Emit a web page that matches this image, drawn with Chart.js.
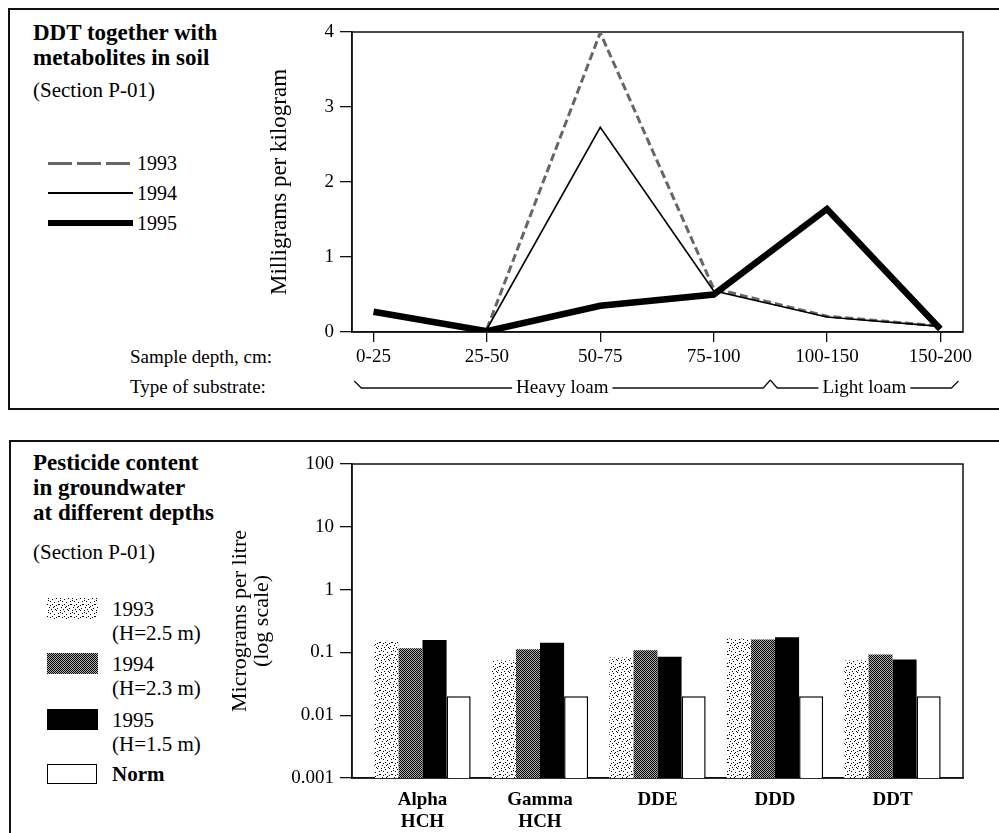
<!DOCTYPE html>
<html>
<head>
<meta charset="utf-8">
<script src="https://cdn.jsdelivr.net/npm/chart.js@4.4.1/dist/chart.umd.min.js"></script>
<style>
  html, body { margin: 0; padding: 0; background: #fff; }
  body { width: 999px; height: 833px; position: relative; overflow: hidden; font-family: "Liberation Serif", serif; color: #000; }
  .abs { position: absolute; white-space: nowrap; }
  .panel { position: absolute; border-left: 2px solid #111; border-top: 2px solid #111; }
  .title { font-weight: bold; font-size: 23px; line-height: 25px; }
  .sub { font-size: 21px; line-height: 22px; }
  .lg { font-size: 20px; line-height: 21px; }
  .lg2 { font-size: 21px; line-height: 24px; }
  .axl { font-size: 19px; line-height: 20px; }
  canvas { position: absolute; }
  .swatch { position: absolute; width: 51px; height: 21px; }
</style>
</head>
<body>
<div class="panel" style="left:8px; top:8px; width:995px; height:398px; border-bottom:2px solid #111;"></div>
<div class="panel" style="left:9px; top:440px; width:995px; height:400px;"></div>

<!-- top panel texts -->
<div class="abs title" style="left:33px; top:20px;">DDT together with<br>metabolites in soil</div>
<div class="abs sub" style="left:33px; top:79px;">(Section P-01)</div>
<div class="abs" style="left:48px; top:162px; width:85px; height:3px; background:repeating-linear-gradient(90deg,#666 0 24px,transparent 24px 29px);"></div>
<div class="abs lg" style="left:137px; top:153px;">1993</div>
<div class="abs" style="left:48px; top:192px; width:85px; height:2px; background:#000;"></div>
<div class="abs lg" style="left:137px; top:183px;">1994</div>
<div class="abs" style="left:48px; top:220px; width:85px; height:6px; background:#000;"></div>
<div class="abs lg" style="left:137px; top:213px;">1995</div>
<div class="abs axl" style="left:130px; top:347px;">Sample depth, cm:</div>
<div class="abs axl" style="left:130px; top:377px;">Type of substrate:</div>

<!-- bottom panel texts -->
<div class="abs title" style="left:33px; top:450px;">Pesticide content<br>in groundwater<br>at different depths</div>
<div class="abs sub" style="left:33px; top:541px;">(Section P-01)</div>
<canvas id="sw1993" class="swatch" width="51" height="21" style="left:47px; top:598px;"></canvas>
<div class="abs lg2" style="left:112px; top:597px;">1993<br>(H=2.5 m)</div>
<canvas id="sw1994" class="swatch" width="51" height="21" style="left:47px; top:653px;"></canvas>
<div class="abs lg2" style="left:112px; top:652px;">1994<br>(H=2.3 m)</div>
<canvas id="sw1995" class="swatch" width="51" height="21" style="left:47px; top:709px;"></canvas>
<div class="abs lg2" style="left:112px; top:708px;">1995<br>(H=1.5 m)</div>
<div class="abs" style="left:47px; top:764px; width:48px; height:18px; border:1.5px solid #000; background:#fff;"></div>
<div class="abs lg2" style="left:112px; top:762px; font-weight:bold;">Norm</div>

<canvas id="soil" width="739" height="404" style="left:260px; top:0px;"></canvas>
<canvas id="water" width="775" height="389" style="left:224px; top:444px;"></canvas>

<script>
// soil profile (mg/kg)
const depths = ['0-25', '25-50', '50-75', '75-100', '100-150', '150-200'];
const soil1993 = [null, 0.04, 3.99, 0.58, 0.21, 0.08];
const soil1994 = [null, 0.04, 2.73, 0.55, 0.2, 0.075];
const soil1995 = [0.27, 0.01, 0.35, 0.5, 1.64, 0.04];
const soilTicks = [0, 1, 2, 3, 4];
const substrates = [['Heavy loam', 0, 3], ['Light loam', 4, 5]];

// groundwater (ug/l, log scale)
const compounds = [['Alpha', 'HCH'], ['Gamma', 'HCH'], 'DDE', 'DDD', 'DDT'];
const water1993 = [0.153, 0.074, 0.083, 0.167, 0.074];
const water1994 = [0.116, 0.112, 0.108, 0.161, 0.093];
const water1995 = [0.157, 0.142, 0.085, 0.175, 0.077];
const waterNorm = [0.02, 0.02, 0.02, 0.02, 0.02];
const waterTicks = [0.001, 0.01, 0.1, 1, 10, 100];

const FAMILY = '"Liberation Serif", serif';
const INK = '#111';

function makePattern(size, dots, bg) {
  const c = document.createElement('canvas');
  c.width = c.height = size;
  const g = c.getContext('2d');
  g.fillStyle = bg;
  g.fillRect(0, 0, size, size);
  g.fillStyle = '#000';
  dots.forEach(function (d) { g.fillRect(d[0], d[1], 1, 1); });
  return g.createPattern(c, 'repeat');
}

const stipple = makePattern(12, [[1,0],[5,1],[9,0],[3,3],[7,4],[11,3],[0,6],[5,6],[9,7],[2,9],[6,9],[10,10],[4,11],[8,11],[1,2],[7,8],[11,6],[3,7]], '#fff');
const halftone = makePattern(2, [[0,0],[1,1]], '#aaa');

function paintSwatch(id, fill) {
  const el = document.getElementById(id);
  const c = el.getContext('2d');
  c.fillStyle = fill;
  c.fillRect(0, 0, el.width, el.height);
}
paintSwatch('sw1993', stipple);
paintSwatch('sw1994', halftone);
paintSwatch('sw1995', '#000');

const boxPlugin = {
  id: 'box',
  beforeDatasetsDraw(chart) {
    const a = chart.chartArea, c = chart.ctx;
    c.save();
    c.strokeStyle = INK;
    c.lineWidth = 1.5;
    c.strokeRect(a.left, a.top, a.right - a.left, a.bottom - a.top);
    c.restore();
  }
};

const substratePlugin = {
  id: 'substrate',
  afterDraw(chart) {
    const xs = chart.scales.x, c = chart.ctx;
    const y = xs.bottom - 16;
    c.save();
    c.strokeStyle = INK;
    c.lineWidth = 1.3;
    c.fillStyle = '#000';
    c.font = '19px ' + FAMILY;
    c.textAlign = 'center';
    c.textBaseline = 'middle';
    substrates.forEach(function (s, k) {
      const first = k === 0, last = k === substrates.length - 1;
      const a = xs.getPixelForValue(first ? s[1] - 0.17 : s[1] - 0.5);
      const b = xs.getPixelForValue(last ? s[2] + 0.16 : s[2] + 0.5);
      const m = (a + b) / 2;
      const tw = c.measureText(s[0]).width;
      c.beginPath();
      c.moveTo(a, y - (first ? 7 : 8));
      c.lineTo(a + 7, y);
      c.lineTo(m - tw / 2 - 4, y);
      c.moveTo(m + tw / 2 + 4, y);
      c.lineTo(b - 7, y);
      c.lineTo(b, y - (last ? 7 : 8));
      c.stroke();
      c.fillText(s[0], m, y);
    });
    c.restore();
  }
};

const tickFont = { family: FAMILY, size: 19 };

new Chart(document.getElementById('soil'), {
  type: 'line',
  data: {
    datasets: [{
      label: '1993',
      data: soil1993.map(function (v, i) { return { x: i, y: v }; }),
      borderColor: '#666',
      borderWidth: 3,
      borderDash: [8, 4],
      order: 2
    }, {
      label: '1994',
      data: soil1994.map(function (v, i) { return { x: i, y: v }; }),
      borderColor: '#000',
      borderWidth: 1.6,
      order: 1
    }, {
      label: '1995',
      data: soil1995.map(function (v, i) { return { x: i, y: v }; }),
      borderColor: '#000',
      borderWidth: 6.5,
      order: 0
    }]
  },
  options: {
    responsive: false,
    animation: false,
    devicePixelRatio: 1,
    layout: { padding: { left: 0, right: 36, top: 32, bottom: 0 } },
    elements: { point: { radius: 0 }, line: { tension: 0 } },
    plugins: { legend: { display: false }, tooltip: { enabled: false } },
    scales: {
      x: {
        type: 'linear', min: -0.19, max: 5.2,
        afterBuildTicks: function (s) { s.ticks = depths.map(function (d, i) { return { value: i }; }); },
        afterFit: function (s) { s.height = 72; },
        ticks: { callback: function (v) { return depths[v]; }, font: tickFont, color: '#000', padding: 4, maxRotation: 0, autoSkip: false },
        grid: { drawOnChartArea: false, tickLength: 10, color: INK, lineWidth: 1.3 },
        border: { color: INK, width: 1.5 }
      },
      y: {
        min: 0, max: 4,
        afterBuildTicks: function (s) { s.ticks = soilTicks.map(function (v) { return { value: v }; }); },
        afterFit: function (s) { s.width = 92; },
        ticks: { font: tickFont, color: '#000', padding: 6 },
        grid: { drawOnChartArea: false, tickLength: 12, color: INK, lineWidth: 1.3 },
        border: { color: INK, width: 1.5 },
        title: { display: true, text: 'Milligrams per kilogram', font: { family: FAMILY, size: 23 }, color: '#000', padding: { top: 6 } }
      }
    }
  },
  plugins: [boxPlugin, substratePlugin]
});

function bars(values) {
  return values.map(function (v, i) { return { x: i, y: v }; });
}

new Chart(document.getElementById('water'), {
  type: 'bar',
  data: {
    datasets: [
      { label: '1993 (H=2.5 m)', data: bars(water1993), backgroundColor: stipple, borderWidth: 0 },
      { label: '1994 (H=2.3 m)', data: bars(water1994), backgroundColor: halftone, borderWidth: 0 },
      { label: '1995 (H=1.5 m)', data: bars(water1995), backgroundColor: '#000', borderWidth: 0 },
      { label: 'Norm', data: bars(waterNorm), backgroundColor: '#fff', borderColor: '#000', borderWidth: 1.5 }
    ]
  },
  options: {
    responsive: false,
    animation: false,
    devicePixelRatio: 1,
    categoryPercentage: 0.82,
    barPercentage: 1.0,
    layout: { padding: { left: 0, right: 36, top: 20, bottom: 0 } },
    plugins: { legend: { display: false }, tooltip: { enabled: false } },
    scales: {
      x: {
        type: 'linear', min: -0.6, max: 4.6, offset: false,
        afterBuildTicks: function (s) { s.ticks = compounds.map(function (c, i) { return { value: i }; }); },
        afterFit: function (s) { s.height = 55; },
        ticks: { callback: function (v) { return compounds[v]; }, font: { family: FAMILY, size: 19, weight: 'bold', lineHeight: 1.15 }, color: '#000', padding: 3, maxRotation: 0, autoSkip: false },
        grid: { display: false, offset: false },
        border: { color: INK, width: 1.5 }
      },
      y: {
        type: 'logarithmic', min: 0.001, max: 100,
        afterBuildTicks: function (s) { s.ticks = waterTicks.map(function (v) { return { value: v }; }); },
        afterFit: function (s) { s.width = 128; },
        ticks: { callback: function (v) { return String(v); }, font: tickFont, color: '#000', padding: 6 },
        grid: { drawOnChartArea: false, tickLength: 12, color: INK, lineWidth: 1.3 },
        border: { color: INK, width: 1.5 },
        title: { display: true, text: ['Micrograms per litre', '(log scale)'], font: { family: FAMILY, size: 22, lineHeight: 1.0 }, color: '#000', padding: { top: 5 } }
      }
    }
  },
  plugins: [boxPlugin]
});
</script>
</body>
</html>
